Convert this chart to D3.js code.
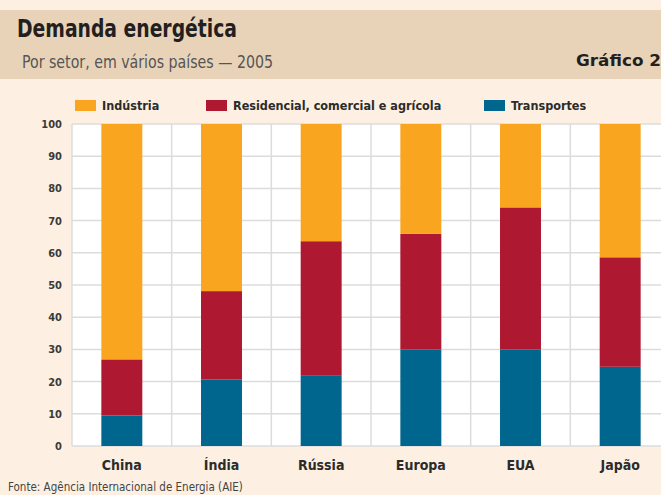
<!DOCTYPE html>
<html>
<head>
<meta charset="utf-8">
<script src="https://cdn.jsdelivr.net/npm/d3@7"></script>
<style>
  body { margin: 0; background: #fdf0e2; }
  svg { display: block; }
  .cond { font-family: "DejaVu Sans Condensed", "Liberation Sans Narrow", "DejaVu Sans", sans-serif; font-stretch: condensed; }
</style>
</head>
<body>
<svg id="chart" width="661" height="495"></svg>
<script>
const countries = ["China", "Índia", "Rússia", "Europa", "EUA", "Japão"];
const seriesNames = ["Transportes", "Residencial, comercial e agrícola", "Indústria"];
const transportes = [9.5, 20.7, 21.8, 30, 30, 24.6];
const residencial = [17.4, 27.4, 41.8, 35.9, 44.1, 34];
const industria = [73.1, 51.9, 36.4, 34.1, 25.9, 41.4];
const yTicks = [0, 10, 20, 30, 40, 50, 60, 70, 80, 90, 100];

const colors = {
  "Indústria": "#f9a51f",
  "Residencial, comercial e agrícola": "#ae1830",
  "Transportes": "#00668e"
};

const svg = d3.select("#chart");

// header band
svg.append("rect").attr("x", 0).attr("y", 10).attr("width", 661).attr("height", 69).attr("fill", "#e9d3b8");
svg.append("text").attr("class", "cond")
  .attr("x", 17).attr("y", 37)
  .attr("font-size", 25).attr("font-weight", "bold").attr("fill", "#231f20")
  .attr("textLength", 220).attr("lengthAdjust", "spacingAndGlyphs")
  .text("Demanda energética");
svg.append("text").attr("class", "cond")
  .attr("x", 22).attr("y", 68)
  .attr("font-size", 17).attr("fill", "#555")
  .attr("textLength", 251).attr("lengthAdjust", "spacingAndGlyphs")
  .text("Por setor, em vários países — 2005");
svg.append("text").attr("class", "cond")
  .attr("x", 576).attr("y", 66)
  .attr("font-size", 15).attr("font-weight", "bold").attr("fill", "#231f20")
  .attr("textLength", 85).attr("lengthAdjust", "spacingAndGlyphs")
  .text("Gráfico 2");

// data table for stacking
const table = countries.map((c, i) => ({
  country: c,
  "Transportes": transportes[i],
  "Residencial, comercial e agrícola": residencial[i],
  "Indústria": industria[i]
}));
const stacked = d3.stack().keys(seriesNames)(table);

const x = d3.scaleBand().domain(countries).range([72, 670]).paddingInner(0.589).paddingOuter(0.2945);
const y = d3.scaleLinear().domain([0, 100]).range([446, 124]);

// plot background
svg.append("rect").attr("x", 72).attr("y", 124).attr("width", 661 - 72).attr("height", 446 - 124).attr("fill", "#fff");

// grid
const bandStep = x.step();
const vLines = d3.range(countries.length + 1).map(i => 72 + i * bandStep);
svg.append("g").selectAll("line").data(vLines).join("line")
  .attr("x1", d => d).attr("x2", d => d)
  .attr("y1", y(100)).attr("y2", y(0))
  .attr("stroke", "#dcdcdc").attr("stroke-width", 1.5);
svg.append("g").selectAll("line").data(yTicks).join("line")
  .attr("x1", 72).attr("x2", 661)
  .attr("y1", d => y(d)).attr("y2", d => y(d))
  .attr("stroke", "#dcdcdc").attr("stroke-width", 1.5);

// y axis labels
const yAxis = svg.append("g").attr("transform", "translate(72,0)")
  .call(d3.axisLeft(y).tickValues(yTicks).tickSize(0).tickPadding(10));
yAxis.select(".domain").remove();
yAxis.selectAll("text").attr("class", "cond")
  .attr("font-size", 11).attr("font-weight", "bold").attr("fill", "#3a3a3a");

// bars
svg.append("g").selectAll("g").data(stacked).join("g")
  .attr("fill", d => colors[d.key])
  .selectAll("rect").data(d => d).join("rect")
  .attr("x", d => x(d.data.country))
  .attr("width", x.bandwidth())
  .attr("y", d => y(d[1]))
  .attr("height", d => y(d[0]) - y(d[1]));

// x axis labels
const xAxis = svg.append("g").attr("transform", "translate(0,446)")
  .call(d3.axisBottom(x).tickSize(0).tickPadding(14));
xAxis.select(".domain").remove();
xAxis.selectAll("text").attr("class", "cond")
  .attr("font-size", 14).attr("font-weight", "bold").attr("fill", "#2b2b2b");

// legend
const legendItems = [
  {name: "Indústria", x: 75},
  {name: "Residencial, comercial e agrícola", x: 206},
  {name: "Transportes", x: 484}
];
const legend = svg.append("g").selectAll("g").data(legendItems).join("g")
  .attr("transform", d => `translate(${d.x},100)`);
legend.append("rect").attr("width", 21).attr("height", 11).attr("fill", d => colors[d.name]);
legend.append("text").attr("class", "cond")
  .attr("x", 27).attr("y", 10)
  .attr("font-size", 12.5).attr("font-weight", "bold").attr("fill", "#2b2b2b")
  .text(d => d.name);

// source
svg.append("text").attr("class", "cond")
  .attr("x", 8).attr("y", 491)
  .attr("font-size", 11.5).attr("fill", "#444")
  .text("Fonte: Agência Internacional de Energia (AIE)");
</script>
</body>
</html>
